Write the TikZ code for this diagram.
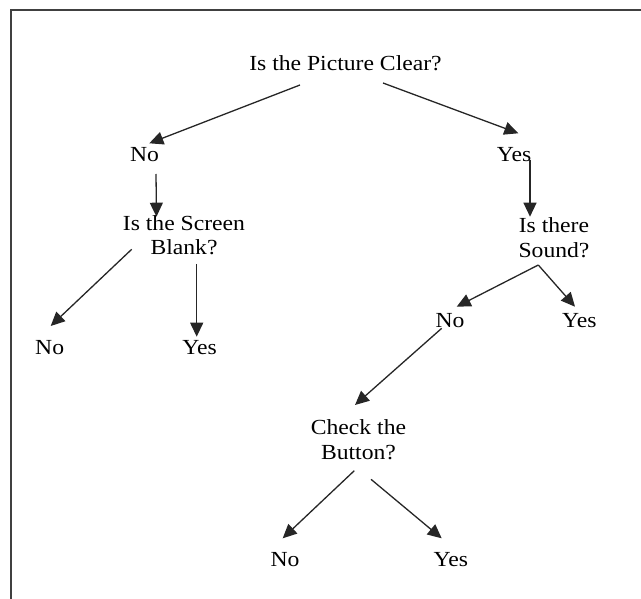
\documentclass[tikz,border=0pt]{standalone}
\usepackage{fontspec}
\setmainfont{Liberation Serif}[FakeStretch=1.1]
\usetikzlibrary{arrows.meta}

\begin{document}
\begin{tikzpicture}[x=1pt, y=-1pt,
    txt/.style={inner sep=0pt, anchor=base, align=center,
        font=\fontsize{21.5}{24.5}\selectfont},
    arr/.style={line width=1.3pt, draw=black!85,
        -{Triangle[length=14pt, width=13pt]}}]
        \useasboundingbox (0,0) rectangle (641,599);
        \draw[line width=2pt, black!75] (11,599) -- (11,10) -- (641,10);

        \node[txt] (root)   at (345.5,71)  {Is the Picture Clear?};
        \node[txt] (no1)    at (144.5,162) {No};
        \node[txt] (yes1)   at (514,162)   {Yes};
        \node[txt] (screen) at (184,255)   {Is the Screen\\Blank?};
        \node[txt] (sound)  at (554,257.3) {Is there\\Sound?};
        \node[txt] (no2)    at (49.7,354.3)  {No};
        \node[txt] (yes2)   at (199.5,354.3) {Yes};
        \node[txt] (no3)    at (450,327.3)   {No};
        \node[txt] (yes3)   at (579.3,327.3) {Yes};
        \node[txt] (button) at (358.5,459.3) {Check the\\Button?};
        \node[txt] (no4)    at (285,566.7)   {No};
        \node[txt] (yes4)   at (450.8,566.7) {Yes};

        \draw[arr] ([shift={(-45.5,14)}]root.base)  -- ([shift={(4.8,-18.7)}]no1.base);
        \draw[arr] ([shift={(37.5,12)}]root.base)   -- ([shift={(4.3,-28.7)}]yes1.base);
        \draw[arr] ([shift={(11.5,12)}]no1.base)    -- ([shift={(-27.5,-38.3)}]screen.base);
        \draw[arr] ([shift={(16,-2)}]yes1.base)     -- ([shift={(-24,-40.6)}]sound.base);
        \draw[arr] ([shift={(-52.3,-5.7)}]screen.base) -- ([shift={(1,-28.3)}]no2.base);
        \draw[arr] ([shift={(12.7,9)}]screen.base)  -- ([shift={(-2.8,-17.6)}]yes2.base);
        \draw[arr] ([shift={(-15.7,7.7)}]sound.base) -- ([shift={(6.7,-20.6)}]no3.base);
        \draw[arr] ([shift={(-15.7,7.7)}]sound.base) -- ([shift={(-4.3,-20.6)}]yes3.base);
        \draw[arr] ([shift={(-8.3,1)}]no3.base)     -- ([shift={(-3.5,-54.3)}]button.base);
        \draw[arr] ([shift={(-4.2,11.4)}]button.base) -- ([shift={(-2.3,-28.4)}]no4.base);
        \draw[arr] ([shift={(12.5,20)}]button.base) -- ([shift={(-9.1,-28.4)}]yes4.base);
\end{tikzpicture}
\end{document}
